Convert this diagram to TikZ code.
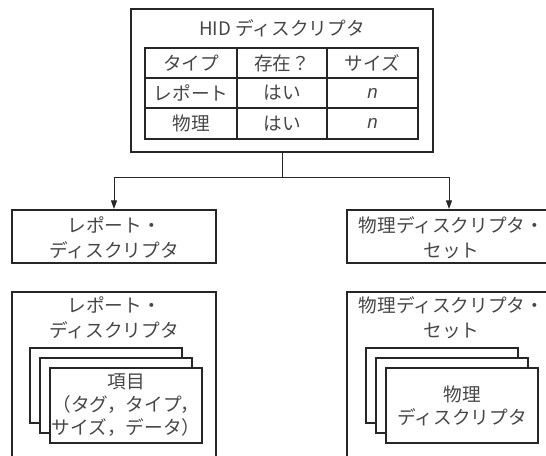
\documentclass[tikz,border=0pt]{standalone}
\usepackage{fontspec}
\setmainfont{Noto Sans CJK JP}
\newfontfamily\latinfont{Liberation Sans}
\usetikzlibrary{arrows.meta}
\begin{document}
\begin{tikzpicture}[x=0.75pt,y=-0.75pt,
  txt/.style={font=\fontsize{14}{18.75}\selectfont, text=black!72, align=center, inner sep=0pt},
  cardtxt/.style={font=\fontsize{14}{17.25}\selectfont, text=black!72, align=center},
  bigbox/.style={draw=black!85, line width=1.5pt, inner sep=0pt},
  cell/.style={draw=black!85, line width=1pt, inner sep=0pt, font=\fontsize{14}{17}\selectfont, text=black!72},
  card/.style={draw=black!85, line width=0.8pt, fill=white, minimum width=114pt, minimum height=56.25pt, inner sep=0pt},
  conn/.style={draw=black!85, line width=0.75pt},
  tip/.style={-{Triangle[length=6.5pt,width=4.5pt]}}
]
\useasboundingbox (0,0) rectangle (546,456);

% top box
\node[bigbox, minimum width=226.5pt, minimum height=107.25pt] (top) at (282,80.5) {};
\node[txt] (title) at (282,28) {HID ディスクリプタ};
% table
\node[cell, minimum width=69pt, minimum height=22.5pt] (c11) at (191,63) {タイプ};
\node[cell, minimum width=67.5pt, minimum height=22.5pt] (c12) at (282,63) {存在？};
\node[cell, minimum width=68.25pt, minimum height=22.5pt] (c13) at (372.5,63) {サイズ};
\node[cell, minimum width=69pt, minimum height=22.5pt] (c21) at (191,93) {レポート};
\node[cell, minimum width=67.5pt, minimum height=22.5pt] (c22) at (282,93) {はい};
\node[cell, minimum width=68.25pt, minimum height=22.5pt] (c23) at (372.5,93) {\latinfont\itshape n};
\node[cell, minimum width=69pt, minimum height=23.25pt] (c31) at (191,123.5) {物理};
\node[cell, minimum width=67.5pt, minimum height=23.25pt] (c32) at (282,123.5) {はい};
\node[cell, minimum width=68.25pt, minimum height=23.25pt] (c33) at (372.5,123.5) {\latinfont\itshape n};

% middle boxes
\node[bigbox, minimum width=153pt, minimum height=39.75pt] (repmid) at (114,236.5) {};
\node[txt] (repmidtxt) at (114,238) {レポート・\\ディスクリプタ};
\node[bigbox, minimum width=156.75pt, minimum height=39.75pt] (phymid) at (451.5,236.5) {};
\node[txt] (phymidtxt) at (451.5,238) {物理ディスクリプタ・\\セット};

% connectors
\coordinate (jn) at (282,178);
\draw[conn] (top.south) -- (jn);
\draw[conn, tip] (jn) -| (repmid.north);
\draw[conn, tip] (jn) -| (449,0 |- phymid.north);

% bottom left
\node[bigbox, minimum width=153pt, minimum height=133.5pt] (repbot) at (114,381) {};
\node[txt] (repbottxt) at (114,318) {レポート・\\ディスクリプタ};
\node[card] (lc1) at (106,385.5) {};
\node[card] (lc2) at (116,395.5) {};
\node[card, cardtxt] (lc3) at (126,405.5) {項目\\（タグ，タイプ，\\サイズ，データ）};

% bottom right
\node[bigbox, minimum width=156.75pt, minimum height=133.5pt] (phybot) at (451.5,381) {};
\node[txt] (phybottxt) at (451.5,318) {物理ディスクリプタ・\\セット};
\node[card] (rc1) at (442,385.5) {};
\node[card] (rc2) at (452,395.5) {};
\node[card, cardtxt] (rc3) at (462,405.5) {物理\\ディスクリプタ};
\end{tikzpicture}
\end{document}
